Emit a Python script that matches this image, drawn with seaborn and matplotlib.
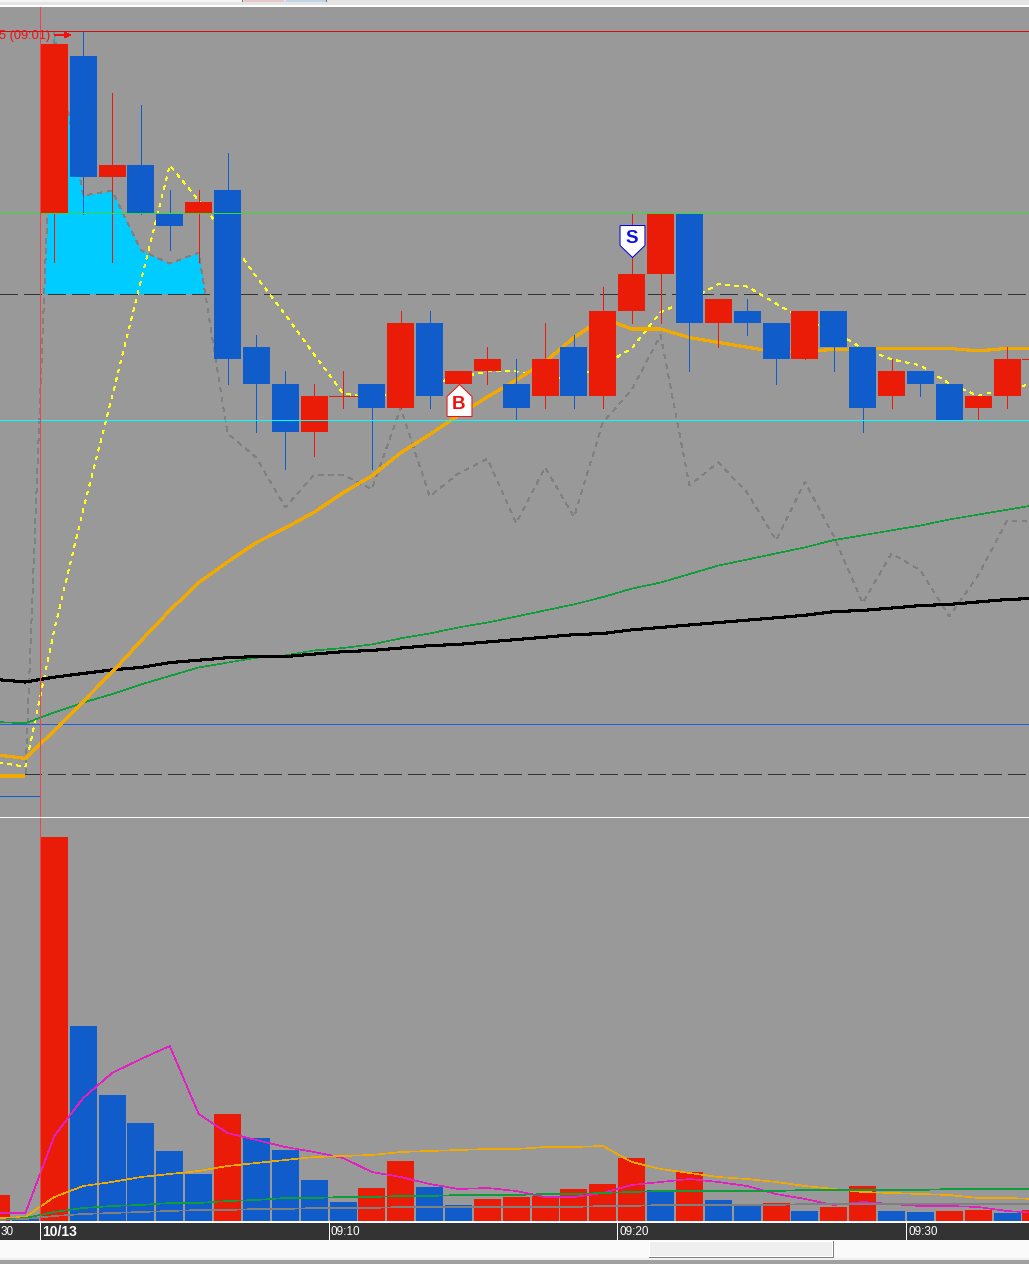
import matplotlib
matplotlib.use("Agg")
import matplotlib.pyplot as plt
from matplotlib.patches import Rectangle
import seaborn as sns
import pandas as pd

# bar number, 0 is the first bar of the session
bars = list(range(-2, 35))

# candles, price in ticks above the cyan support line
candle_bars = list(range(0, 35))
opens  = [17, 30, 20, 21, 17, 17, 19, 6, 3, -1, 2, 3, 1, 8, 3, 4, 3, 2, 6, 2, 9, 12, 17, 8, 9, 8, 5, 9, 6, 2, 4, 3, 1, 2, 5]
closes = [31, 20, 21, 17, 16, 18, 5, 3, -1, 2, 2, 1, 8, 2, 4, 5, 1, 5, 2, 9, 12, 17, 8, 10, 8, 5, 9, 6, 1, 4, 3, 0, 2, 5, 5]
highs  = [31, 32, 27, 26, 19, 19, 22, 7, 4, 3, 4, 3, 9, 9, 4, 6, 5, 8, 7, 11, 17, 17, 17, 10, 10, 8, 9, 9, 6, 5, 4, 3, 2, 6, 5]
lows   = [13, 17, 13, 17, 14, 13, 3, -1, -4, -3, 1, -4, 1, 1, 3, 3, 0, 1, 1, 1, 8, 8, 4, 6, 7, 3, 5, 4, -1, 1, 2, 0, 0, 1, 5]
candle_sides = ["up", "down", "up", "down", "down", "up", "down", "down", "down", "up", "up", "down",
                "up", "down", "up", "up", "down", "up", "down", "up", "up", "up", "down", "up", "down",
                "down", "up", "down", "down", "up", "down", "down", "up", "up", "up"]

# moving averages on the price panel
ma_orange = [-27.6, -27.9, -25.6, -23.2, -20.8, -18.2, -15.7, -13.4, -11.7, -10.1, -8.9, -7.6, -6.0, -4.6, -2.7, -1.2,
             0.4, 1.9, 3.3, 4.8, 6.8, 8.4, 7.5, 7.5, 6.8, 6.4, 6.0, 5.6, 5.7, 5.8, 5.9, 5.9, 5.9, 5.9, 5.7, 5.9, 5.9]
ma_green = [-24.9, -25.0, -24.1, -23.3, -22.6, -21.8, -21.1, -20.4, -20.0, -19.6, -19.4, -19.0, -18.8, -18.5, -18.0,
            -17.6, -17.1, -16.7, -16.2, -15.7, -15.2, -14.6, -13.9, -13.4, -12.7, -12.0, -11.5, -11.0, -10.5, -9.9,
            -9.5, -9.1, -8.7, -8.2, -7.8, -7.4, -7.0]
ma_black = [-21.4, -21.6, -21.2, -20.9, -20.6, -20.4, -20.0, -19.8, -19.6, -19.5, -19.5, -19.3, -19.1, -19.0, -18.8,
            -18.6, -18.5, -18.3, -18.1, -17.9, -17.7, -17.6, -17.3, -17.1, -16.9, -16.7, -16.5, -16.3, -16.1, -15.8,
            -15.7, -15.5, -15.3, -15.2, -15.0, -14.8, -14.7]
ma_yellow = [-28.2, -28.6, -17.3, -7.4, 1.9, 11.5, 21.0, 18.1, 15.1, 11.8, 8.7, 5.4, 2.2, 1.8, 2.4, 3.0, 3.5, 4.0, 4.0,
             3.5, 3.5, 4.5, 5.9, 8.9, 9.9, 11.2, 11.0, 9.6, 8.2, 7.3, 5.9, 5.0, 4.5, 3.0, 2.0, 2.6, 3.0]
gray_line = [-29.4, -29.4, 31.9, 18.5, 18.9, 14.0, 12.9, 13.8, -1.1, -3.1, -7.2, -4.5, -4.5, -5.7, 1.0, -6.3, -4.4, -3.2,
             -8.5, -3.9, -8.0, -0.2, 2.5, 7.0, -5.4, -3.5, -6.0, -9.9, -5.1, -9.6, -15.1, -11.0, -12.4, -16.2, -12.8,
             -8.3, -8.3]

# price levels
top_level = 32.07
green_level = 17.07
cyan_level = 0
dash_level_hi = 10.4
dash_level_lo = -29.2
blue_level = -25.06
blue_short = -31.0
orange_short = -29.35

# volume panel
volumes = [26, 4, 384, 195, 126, 98, 70, 47, 107, 83, 71, 41, 19, 33, 60, 34, 16, 22, 24, 25, 32, 37, 63, 31, 49, 21,
           15, 18, 10, 14, 35, 10, 9, 10, 11, 8, 11]
vol_sides = ["up", "down", "up", "down", "down", "down", "down", "down", "up", "down", "down", "down", "down", "up",
             "up", "down", "down", "up", "up", "up", "up", "up", "up", "down", "up", "down", "down", "up", "down",
             "up", "up", "down", "down", "up", "up", "down", "up"]
vol_magenta = [8, 8, 85, 123, 148, 162, 175, 107, 88, 81, 74, 69, 63, 49, 44, 37, 32, 33, 30, 24, 24, 28, 36, 39, 42,
               39, 35, 27, 22, 16, 19, 17, 15, 15, 14, 10, 8]
vol_orange = [3, 4, 24, 35, 39, 44, 47, 50, 55, 58, 61, 64, 65, 66, 69, 70, 71, 72, 72, 74, 74, 75, 59, 52, 48, 44, 42,
              39, 35, 32, 29, 28, 27, 26, 23, 23, 22]
vol_green = [1, 3, 9, 13, 15, 16, 18, 18, 20, 21, 23, 23, 24, 24, 25, 25, 26, 26, 26, 27, 27, 28, 29, 30, 30, 30, 30,
             30, 31, 31, 31, 31, 31, 32, 32, 32, 32]
vol_gray = [1, 2, 5, 7, 8, 9, 10, 11, 11, 12, 12, 13, 13, 13, 14, 14, 14, 14, 14, 14, 14, 15, 15, 16, 16, 16, 16, 16,
            17, 17, 17, 17, 17, 17, 17, 17, 17]

# time axis
time_ticks = [-0.5, 9.5, 19.5, 29.5]
time_labels = ["10/13", "09:10", "09:20", "09:30"]

RED = "#EA1C08"
BLUE = "#105CCB"
side_colors = {"up": RED, "down": BLUE}
PANEL = "#999999"
W, H = 1029, 1264
XLIM = (-1.881, 33.76)
PX = 0.72  # one pixel line at dpi 100
THIN = 0.45  # sloped lines come out wider without antialiasing

sns.set_style("white")
plt.rcParams["font.family"] = ["Liberation Sans", "DejaVu Sans"]
plt.rcParams["lines.antialiased"] = False
plt.rcParams["patch.antialiased"] = False


def panel(fig, top, bottom, face=PANEL):
    ax = fig.add_axes([0, 1 - bottom / H, 1, (bottom - top) / H], facecolor=face)
    sns.despine(ax=ax, left=True, bottom=True)
    return ax


def finish(ax, ylim):
    ax.set_xlim(*XLIM)
    ax.set_ylim(*ylim)
    ax.set_xticks([])
    ax.set_yticks([])
    ax.set_xlabel("")
    ax.set_ylabel("")


def draw_line(ax, values, color, lw, ls="-", z=3):
    df = pd.DataFrame({"bar": bars, "value": values})
    sns.lineplot(data=df, x="bar", y="value", color=color, linewidth=lw, linestyle=ls,
                 errorbar=None, legend=False, ax=ax, zorder=z)


fig = plt.figure(figsize=(W / 100, H / 100), dpi=100, facecolor="#fafafa")

# window chrome round the panels
chrome = fig.add_axes([0, 0, 1, 1], zorder=-1)
chrome.set_xlim(0, W)
chrome.set_ylim(H, 0)
chrome.axis("off")
for x0, y0, x1, y1, c in [(0, 0, W, 5, "#e4e4e4"), (0, 0, 242, 1.5, "#f4f4f4"), (242, 0, 243, 1.5, "#707070"),
                          (244, 0, 284, 1.5, "#e8c8c8"), (286, 0, 326, 1.5, "#c0d4ec"), (326, 0, 327, 1.5, "#707070"),
                          (0, 5, W, 7, "#ffffff"), (0, 1258, W, 1260, "#f0f0f0"), (0, 1260, W, H, "#a0a0a0"),
                          (649, 1241, 834, 1258, "#808080"), (649, 1241, 833, 1257, "#ffffff"),
                          (650, 1242, 832, 1256, "#efefef")]:
    chrome.add_patch(Rectangle((x0, y0), x1 - x0, y1 - y0, facecolor=c, linewidth=0))

# price panel
ax = panel(fig, 7, 817)
gray_s = pd.Series(gray_line, index=bars)
ax.fill_between(bars, gray_line, dash_level_hi, where=gray_s >= dash_level_hi, interpolate=True,
                color="#00CCFF", linewidth=0, zorder=1)
for level in [dash_level_hi, dash_level_lo]:
    ax.axhline(level, color="#333333", lw=PX, ls=(0, (18, 6)), zorder=2)
ax.axhline(blue_level, color="#2060E0", lw=PX, zorder=2)
ax.hlines(blue_short, XLIM[0], -0.5, color="#105CCB", lw=PX, zorder=2)

draw_line(ax, gray_line, "#808080", THIN, (0, (7, 8)))
draw_line(ax, ma_yellow, "#FFFF20", THIN, (0, (5, 8)))
draw_line(ax, ma_green, "#0F9D3C", THIN)
draw_line(ax, ma_black, "#000000", 1.5)
draw_line(ax, ma_orange, "#F2A900", 1.5)
ax.hlines(orange_short, XLIM[0], -1, color="#F2A900", lw=1.5, zorder=3)

for i, o, c, h, l, side in zip(candle_bars, opens, closes, highs, lows, candle_sides):
    color = side_colors[side]
    ax.vlines(i, l, h, color=color, lw=PX, zorder=4)
    if o == c:
        ax.hlines(o, i - 0.47, i + 0.47, color=color, lw=PX, zorder=5)
    else:
        ax.bar(i, abs(c - o), bottom=min(o, c), width=0.935, color=color, linewidth=0, zorder=5)

ax.axhline(top_level, color="#D01010", lw=PX, zorder=6)
ax.axhline(green_level, color="#33DD33", lw=PX, zorder=6)
ax.axhline(cyan_level, color="#00FFFF", lw=PX, zorder=6)

# buy and sell flags
sell_shape = [(-0.78, 1), (0.78, 1), (0.78, -0.25), (0, -1), (-0.78, -0.25), (-0.78, 1)]
buy_shape = [(-0.78, -1), (0.78, -1), (0.78, 0.25), (0, 1), (-0.78, 0.25), (-0.78, -1)]
ax.plot(20, 14.75, marker=sell_shape, ms=23, mfc="white", mec="#0000E0", mew=PX, zorder=7)
ax.plot(14, 1.65, marker=buy_shape, ms=23, mfc="white", mec="#F01010", mew=PX, zorder=7)
ax.text(20, 14.95, "S", color="#1010E0", fontsize=13.5, fontweight="bold", ha="center", va="center", zorder=8)
ax.text(14, 1.3, "B", color="#F01010", fontsize=13.5, fontweight="bold", ha="center", va="center", zorder=8)

ax.text(-0.14, 31.7, "5 (09:01)", color="#F01010", fontsize=9.2, ha="right", va="center", zorder=8)
ax.annotate("", xy=(0.57, 31.74), xytext=(0.02, 31.74), zorder=8,
            arrowprops=dict(arrowstyle="-|>", color="#F01010", lw=PX, shrinkA=0, shrinkB=0, mutation_scale=9))
ax.axvline(-0.5, color="#E84848", lw=PX, zorder=7)
finish(ax, (-32.73, 34.05))

# volume panel
ax_vol = panel(fig, 818, 1221)
vol_df = pd.DataFrame({"bar": bars, "volume": volumes, "side": vol_sides})
sns.barplot(data=vol_df, x="bar", y="volume", hue="side", palette=side_colors, native_scale=True, dodge=False,
            width=0.935, saturation=1, legend=False, linewidth=0, ax=ax_vol, zorder=2)
draw_line(ax_vol, vol_magenta, "#E020C0", THIN)
draw_line(ax_vol, vol_orange, "#F2A900", THIN)
draw_line(ax_vol, vol_green, "#0F9D3C", THIN)
draw_line(ax_vol, vol_gray, "#808080", THIN)
ax_vol.axvline(-0.5, color="#E84848", lw=PX, zorder=4)
finish(ax_vol, (0, 403))

# time strip
ax_time = panel(fig, 1223, 1240, face="#333333")
ax_time.vlines(time_ticks, 0, 1, color="white", lw=PX)
for t, lab in zip(time_ticks, time_labels):
    bold = lab == "10/13"
    ax_time.annotate(lab, (t, 0.47), xytext=(1.5, 0), textcoords="offset points", color="white",
                     fontsize=10 if bold else 8.5, fontweight="bold" if bold else "normal", va="center")
ax_time.text(-1.875, 0.47, "30", color="white", fontsize=8.5, va="center")
finish(ax_time, (0, 1))

fig.savefig("out.png", dpi=100, facecolor=fig.get_facecolor())
